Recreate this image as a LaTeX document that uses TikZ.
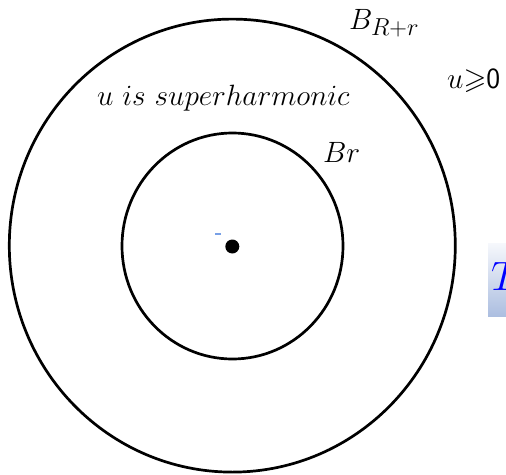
\documentclass[tikz,border=0pt]{standalone}
\usepackage{amsmath,amssymb}
\usepackage{graphicx}
\definecolor{boxtop}{RGB}{246,248,252}
\definecolor{boxbot}{RGB}{172,190,224}
\definecolor{dashblue}{RGB}{120,160,230}
\newcommand{\bigtxt}[2]{\scalebox{#1}{\fontsize{24.88}{30}\selectfont #2}}
\begin{document}
\begin{tikzpicture}[x=1pt,y=-1pt,
  ring/.style={draw=black,line width=2.7pt},
  lbl/.style={inner sep=0pt,anchor=base west}]
\useasboundingbox (0,0) rectangle (506,474);
% gradient box (cut off at the right edge)
\shade[top color=boxtop,bottom color=boxbot] (488,243) rectangle (506,316);
\node[lbl,text=blue] (t) at (491,290) {\bigtxt{1.65}{$T$}};
\draw[ring] (232.3,245.6) ellipse [x radius=223, y radius=226.5];
\draw[ring] (232.5,246) ellipse [x radius=110.5, y radius=113];
\node[circle,fill=black,inner sep=0pt,minimum size=14pt] (dot) at (232.3,246.5) {};
\draw[dashblue,line width=1.2pt] (215,234) coordinate (m1) -- (221,234) coordinate (m2);
\node[lbl] (bout) at (349,29) {\bigtxt{1.18}{$B_{R\text{+}r}$}};
\node[lbl] (cond) at (447,88) {\bigtxt{1.18}{$u{\geqslant}\textsf{0}$}};
\node[lbl] (sup) at (97,105) {\bigtxt{1.18}{$u\ is\ superharmonic$}};
\node[lbl] (bin) at (323,162) {\bigtxt{1.18}{$Br$}};
\end{tikzpicture}
\end{document}
